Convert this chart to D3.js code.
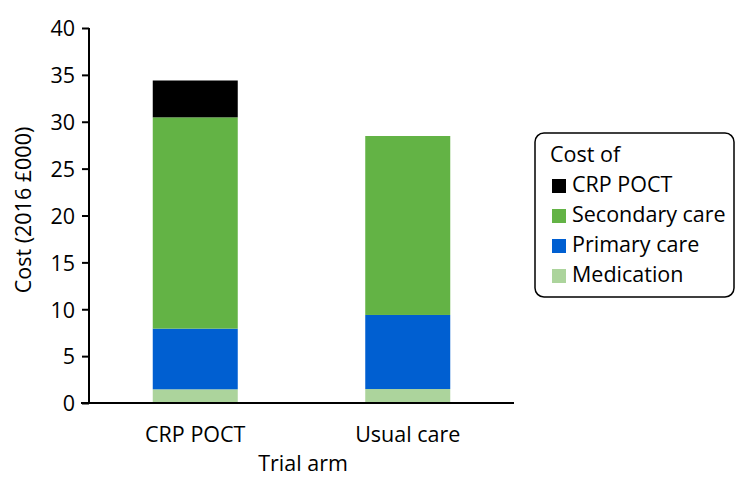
<!DOCTYPE html>
<html>
<head>
<meta charset="utf-8">
<script src="https://cdn.jsdelivr.net/npm/d3@7"></script>
<style>
  html, body { margin: 0; padding: 0; background: #fff; }
  svg { display: block; font-family: "Open Sans", "Noto Sans", sans-serif; }
</style>
</head>
<body>
<svg id="chart" width="736" height="477"></svg>
<script>
const categories = ["CRP POCT", "Usual care"];
const seriesNames = ["Medication", "Primary care", "Secondary care", "CRP POCT"];
const medication = [1.46, 1.49];
const primaryCare = [6.47, 7.9];
const secondaryCare = [22.54, 19.09];
const crpPoct = [3.93, 0];
const yTicks = [0, 5, 10, 15, 20, 25, 30, 35, 40];
const colors = ["#acd49c", "#005fd1", "#63b345", "#000000"];

const FONT = "Open Sans, Noto Sans, sans-serif";
const FS = 21.5;
const svg = d3.select("#chart");
const x0 = 89, yBottom = 403, yTop = 28;

const y = d3.scaleLinear().domain([0, 40]).range([yBottom, yTop]);
const x = d3.scaleBand().domain(categories).range([89, 514]).paddingInner(0.6).paddingOuter(0.3);

const rows = categories.map((c, i) => ({
  cat: c,
  "Medication": medication[i],
  "Primary care": primaryCare[i],
  "Secondary care": secondaryCare[i],
  "CRP POCT": crpPoct[i]
}));
const stack = d3.stack().keys(seriesNames)(rows);

stack.forEach((layer, li) => {
  svg.append("g").selectAll("rect").data(layer).join("rect")
    .attr("x", d => x(d.data.cat))
    .attr("width", x.bandwidth())
    .attr("y", d => y(d[1]))
    .attr("height", d => Math.max(0, y(d[0]) - y(d[1])))
    .attr("fill", colors[li]);
});

// y axis
const yAxis = d3.axisLeft(y).tickValues(yTicks).tickSize(7).tickPadding(7);
const gy = svg.append("g").attr("transform", `translate(${x0},0)`).call(yAxis);
gy.select(".domain").attr("d", `M0,${yTop}V${yBottom}`).attr("stroke", "#000").attr("stroke-width", 2);
gy.selectAll(".tick line").attr("stroke", "#000").attr("stroke-width", 2);
gy.selectAll(".tick text").attr("font-size", FS).attr("fill", "#000").attr("font-family", FONT).attr("dy", "0.36em");

// x axis
const xAxis = d3.axisBottom(x).tickSize(0);
const gx = svg.append("g").attr("transform", `translate(0,${yBottom})`).call(xAxis);
gx.select(".domain").attr("d", "M81,0H514").attr("stroke", "#000").attr("stroke-width", 2);
gx.selectAll(".tick text").attr("font-size", FS).attr("fill", "#000").attr("font-family", FONT)
  .attr("y", 39).attr("dy", 0);

// axis titles
svg.append("text").attr("x", 303).attr("y", 471).attr("text-anchor", "middle")
  .attr("font-size", FS).text("Trial arm");
svg.append("text").attr("transform", "translate(31,210) rotate(-90)").attr("text-anchor", "middle")
  .attr("font-size", FS).text("Cost (2016 £000)");

// legend
const lg = svg.append("g");
lg.append("rect").attr("x", 535).attr("y", 133).attr("width", 199).attr("height", 164)
  .attr("rx", 9).attr("fill", "#fff").attr("stroke", "#000").attr("stroke-width", 1.5);
lg.append("text").attr("x", 550).attr("y", 162).attr("font-size", FS).text("Cost of");
const legendOrder = ["CRP POCT", "Secondary care", "Primary care", "Medication"];
legendOrder.forEach((name, i) => {
  const by = 192 + i * 30;
  lg.append("rect").attr("x", 552).attr("y", by - 13).attr("width", 14).attr("height", 14)
    .attr("fill", colors[seriesNames.indexOf(name)]);
  lg.append("text").attr("x", 572).attr("y", by).attr("font-size", FS).text(name);
});
</script>
</body>
</html>
